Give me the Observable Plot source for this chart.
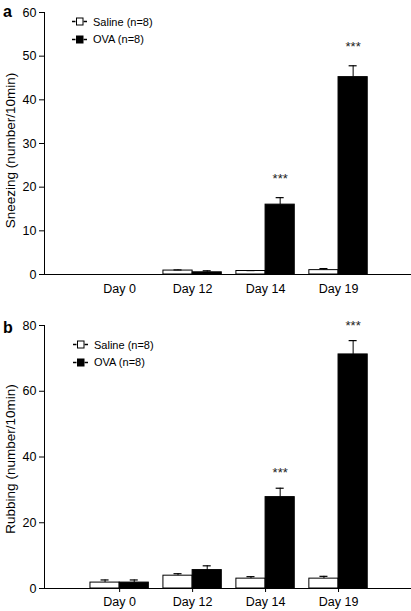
<!DOCTYPE html>
<html><head><meta charset="utf-8">
<script src="https://cdn.jsdelivr.net/npm/d3@7"></script>
<script src="https://cdn.jsdelivr.net/npm/@observablehq/plot@0.6"></script>
<style>
body{margin:0;background:#fff;font-family:"Liberation Sans",Arial,Helvetica,sans-serif;}
#wrap{position:relative;width:411px;height:611px;}
.panel{position:relative;width:411px;}
.letter{position:absolute;font-weight:bold;font-size:16px;line-height:20px;}
.legend{position:absolute;font-size:11px;}
.legend .row{display:flex;align-items:center;height:17.5px;}
.legend svg{margin-right:5px;}
svg{display:block}
</style></head><body><div id="wrap"></div>
<script>
const days = ["Day 0", "Day 12", "Day 14", "Day 19"];
const groups = ["Saline (n=8)", "OVA (n=8)"];

// Panel a: sneezing
const sneezeSaline = [0, 0.9, 0.8, 1.0];
const sneezeSalineSem = [0, 0.15, 0.1, 0.35];
const sneezeOva = [0, 0.5, 16.0, 45.2];
const sneezeOvaSem = [0, 0.35, 1.6, 2.6];
const sneezeStars = ["", "", "***", "***"];
const sneezeTicks = [0, 10, 20, 30, 40, 50, 60];

// Panel b: rubbing
const rubSaline = [1.8, 3.9, 3.0, 3.0];
const rubSalineSem = [0.8, 0.6, 0.6, 0.7];
const rubOva = [1.8, 5.6, 27.8, 71.2];
const rubOvaSem = [0.8, 1.3, 2.7, 4.2];
const rubStars = ["", "", "***", "***"];
const rubTicks = [0, 20, 40, 60, 80];

const barW = 0.4;
const capHalf = 0.055;
const xDomain = [-1.03, 4.0];

function rowsFor(sal, salSem, ova, ovaSem, stars) {
  const rows = [];
  days.forEach((d, i) => {
    rows.push({i, g: 0, value: sal[i], sem: salSem[i], star: ""});
    rows.push({i, g: 1, value: ova[i], sem: ovaSem[i], star: stars[i]});
  });
  return rows;
}
const x1 = d => d.g === 0 ? d.i - barW : d.i;
const x2 = d => d.g === 0 ? d.i : d.i + barW;
const cx = d => d.g === 0 ? d.i - barW / 2 : d.i + barW / 2;

function makePlot({rows, yTicks, label, height, marginTop, marginBottom, xTickSize, xTickPadding, labelDy, starDy}) {
  const errRows = rows.filter(d => d.sem > 0);
  return Plot.plot({
    width: 411, height, marginLeft: 44, marginRight: 0, marginTop, marginBottom,
    style: {fontFamily: '"Liberation Sans", Arial, Helvetica, sans-serif', fontSize: "12.5px", color: "#000", background: "#fff"},
    x: {type: "linear", domain: xDomain},
    y: {domain: [yTicks[0], yTicks[yTicks.length - 1]]},
    marks: [
      Plot.rectY(rows, {x1, x2, y1: 0, y2: "value", fill: d => d.g === 0 ? "#fff" : "#000", stroke: "#000", strokeWidth: 1}),
      Plot.ruleX(errRows, {x: cx, y1: "value", y2: d => d.value + d.sem, stroke: "#000", strokeWidth: 1}),
      Plot.ruleY(errRows, {y: d => d.value + d.sem, x1: d => cx(d) - capHalf, x2: d => cx(d) + capHalf, stroke: "#000", strokeWidth: 1.2}),
      Plot.text(rows.filter(d => d.star), {x: cx, y: d => d.value + d.sem, text: "star", dy: starDy, fontSize: 13, fill: "#222"}),
      Plot.ruleY([0], {stroke: "#000", strokeWidth: 1}),
      Plot.ruleX([xDomain[0]], {stroke: "#000", strokeWidth: 1}),
      Plot.axisY({ticks: yTicks, tickSize: 5, tickPadding: 3, label: null, fontSize: 12.5}),
      Plot.axisX({ticks: days.map((d, i) => i), tickFormat: i => days[i], tickSize: xTickSize, tickPadding: xTickPadding, label: null, fontSize: 12.5}),
      Plot.text([label], {text: d => d, frameAnchor: "left", textAnchor: "middle", rotate: -90, dx: -34, dy: labelDy, fontSize: 13.5})
    ]
  });
}

function legendEl(left, top) {
  const el = document.createElement("div");
  el.className = "legend";
  el.style.left = left + "px";
  el.style.top = top + "px";
  groups.forEach((g, k) => {
    const row = document.createElement("div");
    row.className = "row";
    row.innerHTML = `<svg width="16" height="9" viewBox="0 0 16 9"><line x1="0" y1="4.5" x2="3.5" y2="4.5" stroke="#000" stroke-width="1.5"/><line x1="11.5" y1="4.5" x2="15" y2="4.5" stroke="#000" stroke-width="1.5"/><rect x="4.5" y="1" width="6.5" height="7" fill="${k === 0 ? "#fff" : "#000"}" stroke="#000" stroke-width="1"/></svg><span>${g}</span>`;
    el.appendChild(row);
  });
  return el;
}

function addPanel(letter, letterTop, plot, legLeft, legTop) {
  const p = document.createElement("div");
  p.className = "panel";
  p.appendChild(plot);
  const l = document.createElement("div");
  l.className = "letter";
  l.textContent = letter;
  l.style.left = "3px";
  l.style.top = letterTop + "px";
  p.appendChild(l);
  p.appendChild(legendEl(legLeft, legTop));
  document.getElementById("wrap").appendChild(p);
}

addPanel("a", 2, makePlot({
  rows: rowsFor(sneezeSaline, sneezeSalineSem, sneezeOva, sneezeOvaSem, sneezeStars),
  yTicks: sneezeTicks, label: "Sneezing (number/10min)",
  height: 300, marginTop: 12, marginBottom: 26, xTickSize: 0, xTickPadding: 10, labelDy: 7, starDy: -19
}), 72, 13);

addPanel("b", 18, makePlot({
  rows: rowsFor(rubSaline, rubSalineSem, rubOva, rubOvaSem, rubStars),
  yTicks: rubTicks, label: "Rubbing (number/10min)",
  height: 311, marginTop: 25, marginBottom: 23, xTickSize: 4, xTickPadding: 5, labelDy: 2, starDy: -15
}), 73, 36);
</script></body></html>
